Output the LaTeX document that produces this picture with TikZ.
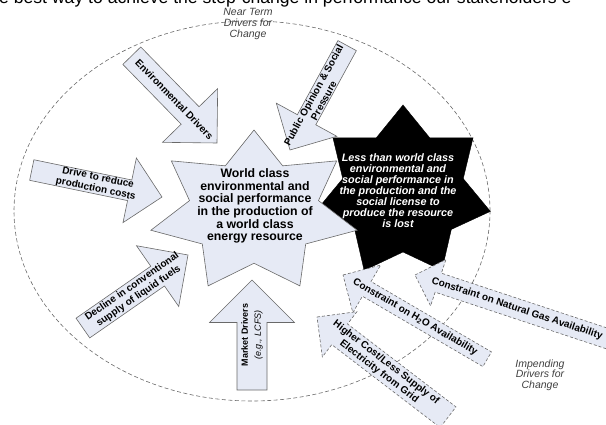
\documentclass[tikz,border=0pt]{standalone}
\usepackage{fontspec}
\setmainfont{Liberation Sans}
\usepackage{tikz}
\usetikzlibrary{shapes.geometric, calc}
\definecolor{paleblue}{RGB}{230,234,245}
\definecolor{edgegray}{RGB}{105,105,105}
\tikzstyle{zone} = [ellipse, draw=edgegray, dash pattern=on 4pt off 2.5pt, line width=0.6pt, inner sep=0pt]
\tikzstyle{goodstar} = [star, star points=7, star point ratio=1.6, inner sep=0pt, draw=edgegray, line width=0.6pt, fill=paleblue]
\tikzstyle{badstar} = [star, star points=7, star point ratio=1.45, inner sep=0pt, draw=black, fill=black]
\tikzstyle{driver} = [draw=edgegray, line width=0.6pt, fill=paleblue, line join=miter]
\tikzstyle{impending} = [driver, dash pattern=on 3pt off 2pt]
\tikzstyle{drivertext} = [align=center, font=\fontsize{10}{11.5}\selectfont\bfseries, inner sep=0pt]
\tikzstyle{zonetext} = [align=center, font=\fontsize{10.5}{10.7}\selectfont\itshape, text=black!75]
% block arrow: style, tip, angle, length, half shaft, half head, name
\newcommand{\driverarrow}[7]{%
  \begin{scope}[shift={#2}, rotate=#3]
    \draw [#1] (0,0) -- (-#6,#6) -- (-#6,#5) -- (-#4,#5) -- (-#4,-#5) -- (-#6,-#5) -- (-#6,-#6) -- cycle;
    \coordinate (#7tip) at (0,0);
    \coordinate (#7tail) at (-#4,0);
  \end{scope}}

\begin{document}
\begin{tikzpicture}[x=1pt, y=-1pt]
        \useasboundingbox (0,0) rectangle (606,425);
        \clip (0,0) rectangle (606,425);

        \node (headline) [anchor=base west, inner sep=0pt, font=\fontsize{17.6}{17.6}\selectfont] at (-1,4) {e best way to achieve the step-change in performance our stakeholders e};

        \node (nearzone) [zone, minimum width=476pt, minimum height=380pt] at (252,211) {};
        \node (neartext) [zonetext] at (248,24) {Near Term\\Drivers for\\Change};
        \node (impendtext) [zonetext] at (540,375) {Impending\\Drivers for\\Change};

        % the two outcomes
        \node (lossstar) [badstar, minimum size=174pt, xscale=1.03] at (403,192) {};
        \node (worldstar) [goodstar, minimum size=164pt, xscale=1.29] at (254,212) {};
        \node (worldtext) [align=center, font=\fontsize{12.3}{12.6}\selectfont\bfseries] at (255,206) {World class\\environmental and\\social performance\\in the production of\\a world class\\energy resource};
        \node (losstext) [align=center, text=white, font=\fontsize{10.8}{11}\selectfont\bfseries\itshape] at (398,191) {Less than world class\\environmental and\\social performance in\\the production and the\\social license to\\produce the resource\\is lost};

        % near term drivers
        \driverarrow{driver}{(217,143)}{-45.7}{122}{12.5}{38.5}{env}
        \node (envtext) [drivertext, rotate=-45.7] at ($(envtail)!0.5!(envtip)$) {Environmental Drivers};

        \driverarrow{driver}{(290,150)}{-118.7}{119}{10.5}{34.5}{pub}
        \node (pubtext) [drivertext, rotate=61.3] at ($(pubtail)!0.5!(pubtip)$) {Public Opinion \& Social\\Pressure};

        \driverarrow{driver}{(162,197)}{-11.7}{133}{10.5}{33}{cost}
        \node (costtext) [drivertext, rotate=-11.7] at ($(costtail)!0.5!(costtip)$) {Drive to reduce\\production costs};

        \driverarrow{driver}{(188,255)}{34.8}{128}{12}{37}{fuel}
        \node (fueltext) [drivertext, rotate=34.8] at ($(fueltail)!0.5!(fueltip)$) {Decline in conventional\\supply of liquid fuels};

        \driverarrow{driver}{(252,280)}{90}{110}{15}{42.5}{market}
        \node (markettext) [drivertext, rotate=90, font=\fontsize{9}{10}\selectfont\bfseries] at ($(markettail)!0.5!(markettip)$) {Market Drivers\\[3pt]{\mdseries\itshape (e.g., LCFS)}};

        % impending drivers
        \driverarrow{impending}{(415,275)}{161.7}{215}{10}{24.5}{gas}
        \node (gastext) [drivertext, rotate=-18.3] at ($(gastail)!0.5!(gastip)$) {Constraint on Natural Gas Availability};

        \driverarrow{impending}{(343,275)}{149.7}{167}{8.5}{27.5}{water}
        \node (watertext) [drivertext, rotate=-30.3] at ($(watertail)!0.5!(watertip)$) {Constraint on H\textsubscript{2}O Availability};

        \driverarrow{impending}{(317,317)}{142.6}{165}{13}{28.5}{grid}
        \node (gridtext) [drivertext, rotate=-37.4] at ($(gridtail)!0.5!(gridtip)$) {Higher Cost/Less Supply of\\Electricity from Grid};
    \end{tikzpicture}
\end{document}
